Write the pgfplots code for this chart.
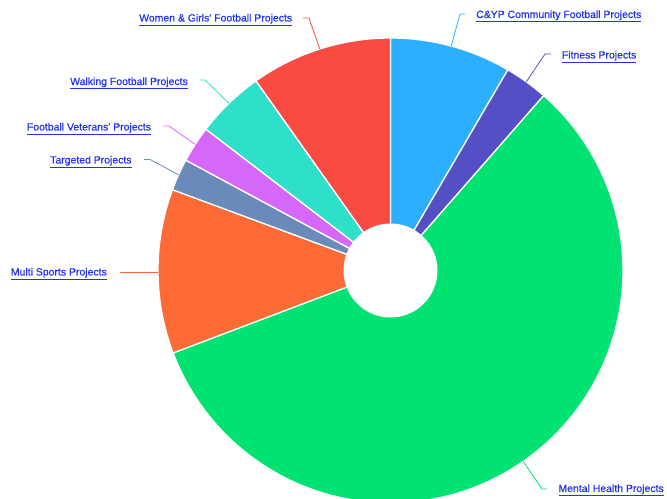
\documentclass[border=0pt]{standalone}
\usepackage{pgfplots}
\pgfplotsset{compat=1.18}
\usepackage{fontspec}
\setmainfont{Liberation Sans}
\newfontfamily\lblfont[FakeBold=0.7]{Liberation Sans}
\definecolor{cA}{HTML}{2CAFFE}
\definecolor{cB}{HTML}{544FC5}
\definecolor{cC}{HTML}{00E272}
\definecolor{cD}{HTML}{FE6A35}
\definecolor{cE}{HTML}{6B8ABC}
\definecolor{cF}{HTML}{D568FB}
\definecolor{cG}{HTML}{2EE0CA}
\definecolor{cH}{HTML}{FA4B42}
\definecolor{linkblue}{RGB}{34,51,238}
% shares of the whole (percent), clockwise from the top
\def\vA{8.42}  % C&YP Community Football Projects
\def\vB{3.03}  % Fitness Projects
\def\vC{57.78} % Mental Health Projects
\def\vD{11.42} % Multi Sports Projects
\def\vE{2.22}  % Targeted Projects
\def\vF{2.53}  % Football Veterans' Projects
\def\vG{4.78}  % Walking Football Projects
\def\vH{9.83}  % Women & Girls' Football Projects
\def\cx{390.5}\def\cy{228.5}\def\R{232.5}\def\r{47}
\newcommand{\slice}[3]{%
  \addplot[fill=#3, draw=white, line width=1.3pt, domain=#1:#2, samples=100]
    ({\cx+\R*sin(x)},{\cy+\R*cos(x)}) -- (axis cs:\cx,\cy) -- cycle;}
\newcommand{\lbl}[3]{\node[anchor=base west, inner sep=0pt,
  font=\lblfont\fontsize{10.5}{12}\selectfont, text=linkblue] at (axis cs:#1,#2) {\underline{#3}};}
\begin{document}
\begin{tikzpicture}
\pgfmathsetmacro\aA{0}
\pgfmathsetmacro\aB{\aA+3.6*\vA}
\pgfmathsetmacro\aC{\aB+3.6*\vB}
\pgfmathsetmacro\aD{\aC+3.6*\vC}
\pgfmathsetmacro\aE{\aD+3.6*\vD}
\pgfmathsetmacro\aF{\aE+3.6*\vE}
\pgfmathsetmacro\aG{\aF+3.6*\vF}
\pgfmathsetmacro\aH{\aG+3.6*\vG}
\pgfmathsetmacro\aI{360}
\useasboundingbox (0,0) rectangle (667bp,499bp);
\begin{axis}[at={(0,0)}, anchor=south west, width=667bp, height=499bp, scale only axis,
  xmin=0, xmax=667, ymin=0, ymax=499, hide axis, clip=true]
\slice{\aA}{\aB}{cA}
\slice{\aB}{\aC}{cB}
\slice{\aC}{\aD}{cC}
\slice{\aD}{\aE}{cD}
\slice{\aE}{\aF}{cE}
\slice{\aF}{\aG}{cF}
\slice{\aG}{\aH}{cG}
\slice{\aH}{\aI}{cH}
\addplot[fill=white, draw=none, domain=0:360, samples=120]
  ({\cx+\r*sin(x)},{\cy+\r*cos(x)}) -- cycle;
% connectors
\addplot[cA, line width=0.8pt, no marks] coordinates {(465,485) (460,485) (451.3,453)};
\addplot[cB, line width=0.8pt, no marks] coordinates {(551,445) (545,445) (526.3,417.2)};
\addplot[cC, line width=0.8pt, no marks] coordinates {(547,10) (542,10) (523.1,37.6)};
\addplot[cD, line width=0.8pt, no marks] coordinates {(120,227) (158,227)};
\addplot[cE, line width=0.8pt, no marks] coordinates {(144,339.5) (150,339.5) (178.7,324.2)};
\addplot[cF, line width=0.8pt, no marks] coordinates {(163,373) (169,373) (195.2,354.6)};
\addplot[cG, line width=0.8pt, no marks] coordinates {(200,419) (205,419) (229,395.7)};
\addplot[cH, line width=0.8pt, no marks] coordinates {(303,481) (309,481) (319.8,450)};
% labels
\lbl{476}{481}{C\&YP Community Football Projects}
\lbl{561.7}{440.5}{Fitness Projects}
\lbl{558.3}{7}{Mental Health Projects}
\lbl{10.7}{223.5}{Multi Sports Projects}
\lbl{50}{335.5}{Targeted Projects}
\lbl{26.7}{368.5}{Football Veterans' Projects}
\lbl{70}{414}{Walking Football Projects}
\lbl{139}{477.5}{Women \& Girls' Football Projects}
\end{axis}
\end{tikzpicture}
\end{document}
